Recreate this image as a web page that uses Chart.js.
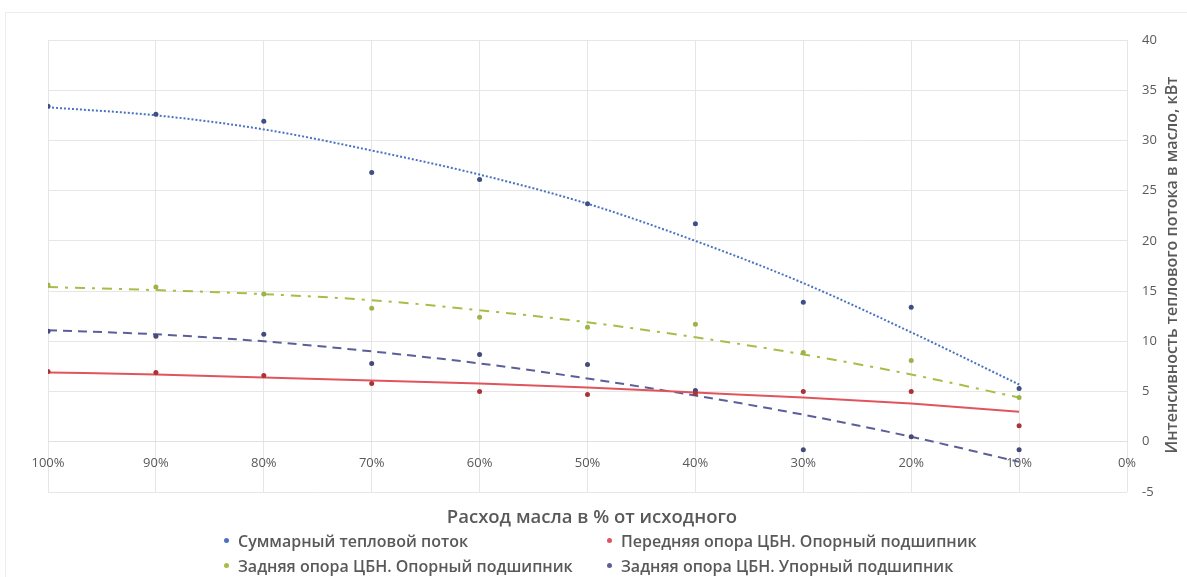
<!DOCTYPE html>
<html>
<head>
<meta charset="utf-8">
<script src="https://cdn.jsdelivr.net/npm/chart.js@4/dist/chart.umd.min.js"></script>
<style>
  html, body { margin: 0; padding: 0; background: #fff; }
  #wrap { position: relative; width: 1187px; height: 577px; font-family: "Open Sans", sans-serif; color: #595959; }
  #chart { position: absolute; left: 0; top: 0; }
  #xtitle { position: absolute; left: 0; width: 1184px; top: 503px; text-align: center; font-size: 18.5px; font-weight: 600; }
  #legend { position: absolute; left: 224px; top: 530px; display: grid; grid-template-columns: 383px auto; row-gap: 3px; font-size: 16px; font-weight: 600; white-space: nowrap; }
  #legend span.dot { display: inline-block; width: 5px; height: 5px; border-radius: 50%; margin-right: 9px; vertical-align: middle; position: relative; top: -2px; }
</style>
</head>
<body>
<div id="wrap">
  <canvas id="chart" width="1187" height="577"></canvas>
  <div id="xtitle"></div>
  <div id="legend"></div>
</div>
<script>
'use strict';

var oilFlow = [100, 90, 80, 70, 60, 50, 40, 30, 20, 10];

// measured heat flux, kW
var totalFlux = [33.4, 32.6, 31.9, 26.8, 26.1, 23.7, 21.7, 13.9, 13.4, 5.3];
var frontJournal = [7.0, 6.9, 6.6, 5.8, 5.0, 4.7, 4.8, 5.0, 5.0, 1.6];
var rearJournal = [15.6, 15.4, 14.7, 13.3, 12.4, 11.4, 11.7, 8.9, 8.1, 4.4];
var rearThrust = [11.0, 10.5, 10.7, 7.8, 8.7, 7.7, 5.1, -0.8, 0.5, -0.8];

// trend lines
var totalTrend = [33.3, 32.5, 31.1, 29.0, 26.6, 23.7, 20.0, 15.8, 10.9, 5.7];
var frontTrend = [6.9, 6.7, 6.4, 6.1, 5.8, 5.4, 4.9, 4.4, 3.8, 3.0];
var rearJournalTrend = [15.4, 15.1, 14.7, 14.1, 13.1, 11.9, 10.4, 8.7, 6.7, 4.4];
var rearThrustTrend = [11.1, 10.7, 10.0, 9.0, 7.8, 6.3, 4.6, 2.7, 0.5, -2.0];

var seriesNames = [
  'Суммарный тепловой поток',
  'Передняя опора ЦБН. Опорный подшипник',
  'Задняя опора ЦБН. Опорный подшипник',
  'Задняя опора ЦБН. Упорный подшипник'
];
var xTitle = 'Расход масла в % от исходного';
var yTitle = 'Интенсивность теплового потока в масло, кВт';

var lineColors = ['#4a72c0', '#e0555c', '#a6be48', '#5b5f98'];
var dotColors = ['#3d4f86', '#a8343a', '#9cb34a', '#464a78'];
var dashes = [[2, 2], [], [10, 7, 3, 7], [9, 6]];

function toPoints(values) {
  var pts = [];
  for (var i = 0; i < oilFlow.length; i++) {
    pts.push({ x: oilFlow[i], y: values[i] });
  }
  return pts;
}

var measured = [totalFlux, frontJournal, rearJournal, rearThrust];
var trends = [totalTrend, frontTrend, rearJournalTrend, rearThrustTrend];

var datasets = [];
for (var s = 0; s < measured.length; s++) {
  datasets.push({
    label: seriesNames[s],
    data: toPoints(measured[s]),
    showLine: false,
    pointRadius: 2.5,
    pointBackgroundColor: dotColors[s],
    pointBorderWidth: 0
  });
}
for (var t = 0; t < trends.length; t++) {
  datasets.push({
    label: seriesNames[t] + ' (тренд)',
    data: toPoints(trends[t]),
    showLine: true,
    pointRadius: 0,
    borderColor: lineColors[t],
    borderWidth: 2,
    borderDash: dashes[t],
    cubicInterpolationMode: 'monotone'
  });
}

// light frame and the rotated axis title on the right
var frame = {
  id: 'frame',
  beforeDraw: function (chart) {
    var c = chart.ctx;
    c.save();
    c.fillStyle = '#fff';
    c.fillRect(0, 0, chart.width, chart.height);
    c.strokeStyle = '#ececec';
    c.lineWidth = 1;
    c.beginPath();
    c.moveTo(5.5, chart.height);
    c.lineTo(5.5, 12.5);
    c.lineTo(chart.width, 12.5);
    c.stroke();
    c.restore();
  },
  afterDraw: function (chart) {
    var c = chart.ctx;
    c.save();
    c.translate(1172, 265);
    c.rotate(-Math.PI / 2);
    c.font = '600 16px "Open Sans"';
    c.fillStyle = '#595959';
    c.textAlign = 'center';
    c.textBaseline = 'middle';
    c.fillText(yTitle, 0, 0);
    c.restore();
  }
};

var ctx = document.getElementById('chart').getContext('2d');

var chart = new Chart(ctx, {
  type: 'scatter',
  data: { datasets: datasets },
  plugins: [frame],
  options: {
    responsive: false,
    animation: false,
    devicePixelRatio: 1,
    layout: { padding: { left: 48, top: 40, right: 0, bottom: 85 } },
    plugins: {
      legend: { display: false },
      tooltip: { enabled: false }
    },
    scales: {
      x: {
        type: 'linear',
        position: { y: 0 },
        min: 0,
        max: 100,
        reverse: true,
        grid: { color: '#e6e6e6', drawTicks: false },
        border: { color: '#e0e0e0' },
        ticks: {
          stepSize: 10,
          padding: 14,
          color: '#595959',
          font: { family: 'Open Sans', size: 13 },
          callback: function (v) { return v + '%'; }
        }
      },
      y: {
        position: 'right',
        min: -5,
        max: 40,
        grid: { color: '#e6e6e6', drawTicks: false },
        border: { display: false },
        ticks: {
          stepSize: 5,
          padding: 15,
          color: '#595959',
          font: { family: 'Open Sans', size: 13 }
        },
        afterFit: function (scale) { scale.width = 60; }
      }
    }
  }
});

document.getElementById('xtitle').textContent = xTitle;

var legend = document.getElementById('legend');
for (var k = 0; k < seriesNames.length; k++) {
  var item = document.createElement('div');
  var dot = document.createElement('span');
  dot.className = 'dot';
  dot.style.background = lineColors[k];
  item.appendChild(dot);
  item.appendChild(document.createTextNode(seriesNames[k]));
  legend.appendChild(item);
}
</script>
</body>
</html>
